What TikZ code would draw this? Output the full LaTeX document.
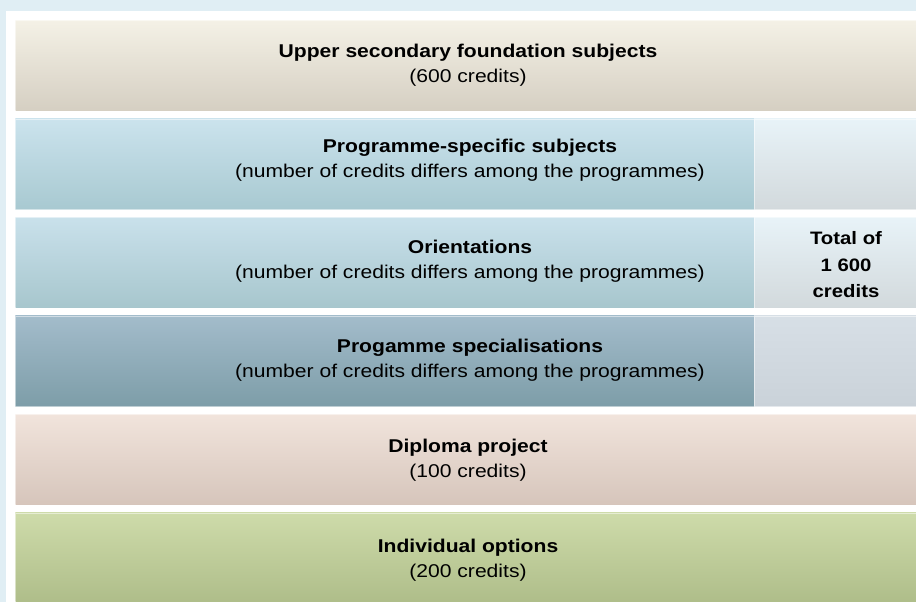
\documentclass[tikz,border=0pt]{standalone}
\usepackage{fontspec}
\usepackage{graphicx}
\setmainfont{Liberation Sans}
\usetikzlibrary{positioning}

\definecolor{pagebg}{HTML}{E0EEF4}
\definecolor{baseT}{HTML}{F4F1E6}\definecolor{baseB}{HTML}{D5CFC2}
\definecolor{progT}{HTML}{CBE3ED}\definecolor{progB}{HTML}{A8C9D1}
\definecolor{orieT}{HTML}{C9E1EB}\definecolor{orieB}{HTML}{A7C6CD}
\definecolor{specT}{HTML}{A3BCCB}\definecolor{specB}{HTML}{7D9DA8}
\definecolor{sideT}{HTML}{E8F3F8}\definecolor{sideB}{HTML}{D2D9DC}
\definecolor{sidedT}{HTML}{D7DFE6}\definecolor{sidedB}{HTML}{CAD2D9}
\definecolor{dipT}{HTML}{F1E4DC}\definecolor{dipB}{HTML}{D6C5BB}
\definecolor{indT}{HTML}{CEDBAA}\definecolor{indB}{HTML}{AEBD89}

% two-line label, stretched a little like the original
\newcommand{\barlabel}[2]{\scalebox{1.14}[1]{\begin{tabular}{@{}c@{}}\textbf{#1}\\#2\end{tabular}}}

\begin{document}
\begin{tikzpicture}[
			x=1pt, y=-1pt,
			bar/.style={rectangle, anchor=north west, inner sep=0pt, minimum height=90.5pt, draw=white, draw opacity=0.5, line width=0.8pt},
			wide/.style={bar, minimum width=901pt},
			narrow/.style={bar, minimum width=739pt},
			side/.style={bar, minimum width=162pt},
			txt/.style={inner sep=0pt, align=center, font=\fontsize{18.5}{25}\selectfont},
			shade/.style 2 args={top color=#1, middle color=#1, bottom color=#2}
			]
			
			\useasboundingbox (0,0) rectangle (916,602);
			\fill[pagebg] (0,0) rectangle (916,602);
			\fill[white] (6,11) rectangle (916,602);
			\begin{scope}
			\clip (0,0) rectangle (916,602);
			
			% bars
			\node[wide, shade={baseT}{baseB}] (base) at (15,20) {};
			\node[narrow, shade={progT}{progB}] (prog) at (15,118.5) {};
			\node[narrow, shade={orieT}{orieB}] (orie) at (15,217) {};
			\node[narrow, shade={specT}{specB}] (spec) at (15,315.5) {};
			\node[side, shade={sideT}{sideB}] (side1) at (754,118.5) {};
			\node[side, shade={sideT}{sideB}] (side2) at (754,217) {};
			\node[side, shade={sidedT}{sidedB}] (side3) at (754,315.5) {};
			\node[wide, shade={dipT}{dipB}] (dip) at (15,414) {};
			\node[wide, shade={indT}{indB}] (ind) at (15,512.5) {};
			\end{scope}
			
			% texts
			\node[txt] (basetxt) at (468,65) {\barlabel{Upper secondary foundation subjects}{(600 credits)}};
			\node[txt] (progtxt) at (470,159.5) {\barlabel{Programme-specific subjects}{(number of credits differs among the programmes)}};
			\node[txt] (orietxt) at (470,261) {\barlabel{Orientations}{(number of credits differs among the programmes)}};
			\node[txt] (spectxt) at (470,360) {\barlabel{Progamme specialisations}{(number of credits differs among the programmes)}};
			\node[txt] (diptxt) at (468,459.5) {\barlabel{Diploma project}{(100 credits)}};
			\node[txt] (indtxt) at (468,559.5) {\barlabel{Individual options}{(200 credits)}};
			\node[txt, font=\fontsize{18}{26.5}\selectfont\bfseries] (sidetxt) at (846,266) {\scalebox{1.13}[1]{\begin{tabular}{@{}c@{}}Total of\\1 600\\credits\end{tabular}}};
		\end{tikzpicture}
\end{document}
